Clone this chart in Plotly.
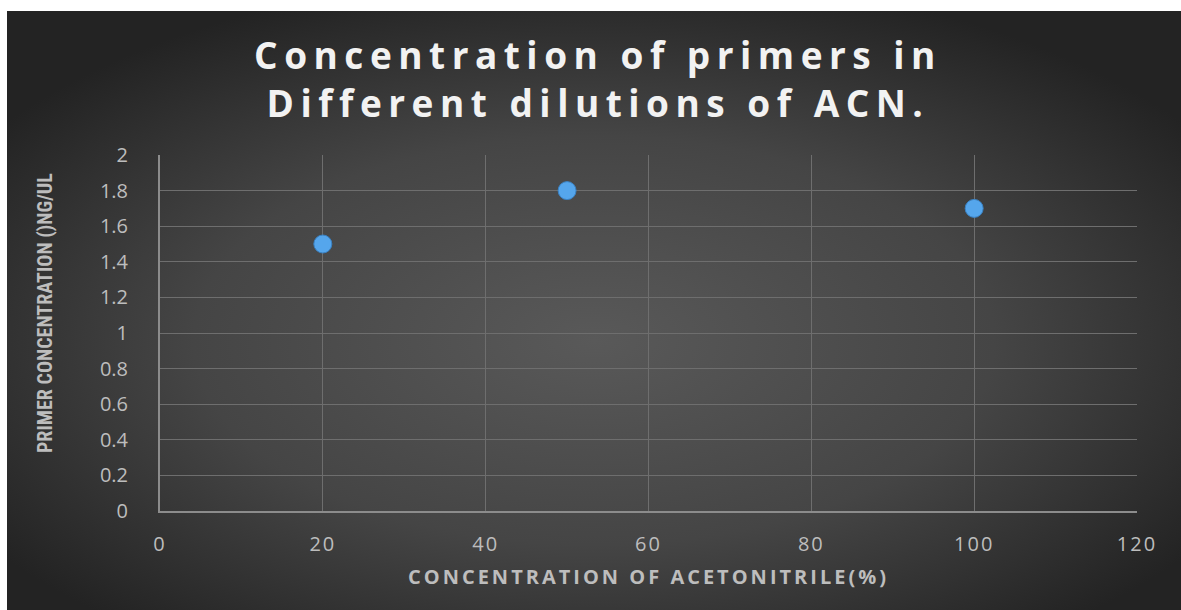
import plotly.graph_objects as go
import base64

acn_percent = [20, 50, 100]
primer_conc = [1.5, 1.8, 1.7]

title_lines = ["Concentration of primers in", "Different dilutions of ACN."]
x_title = "CONCENTRATION OF ACETONITRILE(%)"
y_title = "PRIMER CONCENTRATION ()NG/UL"

W, H = 1181, 610
L, R, T, B = 160, 44, 155, 99
pw, ph = W - L - R, H - T - B

svg = (
    '<svg xmlns="http://www.w3.org/2000/svg" width="1174" height="599" preserveAspectRatio="none">'
    '<defs><radialGradient id="g" cx="50%" cy="55%" r="62%" fx="50%" fy="55%">'
    '<stop offset="0%" stop-color="#595959"/>'
    '<stop offset="55%" stop-color="#454545"/>'
    '<stop offset="100%" stop-color="#232323"/>'
    '</radialGradient></defs>'
    '<rect width="1174" height="599" fill="url(#g)"/></svg>'
)
src = "data:image/svg+xml;base64," + base64.b64encode(svg.encode()).decode()

fig = go.Figure()
fig.add_trace(go.Scatter(
    x=acn_percent, y=primer_conc, mode="markers",
    marker=dict(size=18, color="#55a6ec", line=dict(color="#3a82c4", width=1)),
    showlegend=False, hoverinfo="x+y",
))

fig.add_layout_image(dict(
    source=src, xref="paper", yref="paper",
    x=(7 - L) / pw, y=(H - B - 11) / ph,
    sizex=(W - 7) / pw, sizey=(H - 11) / ph,
    sizing="stretch", xanchor="left", yanchor="top", layer="below",
))

fig.add_annotation(
    text=y_title, textangle=-90, showarrow=False,
    xref="paper", yref="paper",
    x=(45 - L) / pw, y=(H - B - 313) / ph, xanchor="center", yanchor="middle",
    font=dict(family="Liberation Sans Narrow, Roboto Condensed, Arial Narrow, sans-serif",
              size=20, color="#bdbdbd", weight="bold"),
)

fig.update_layout(
    width=W, height=H,
    margin=dict(l=L, r=R, t=T, b=B),
    paper_bgcolor="white",
    plot_bgcolor="rgba(0,0,0,0)",
    title=dict(
        text="<br>".join(title_lines),
        x=(598 - L) / pw, xref="paper", xanchor="center",
        y=1 - 69 / H, yref="container", yanchor="middle",
        font=dict(family="Open Sans", size=37, color="#f2f2f2", weight="bold"),
    ),
    font=dict(family="Open Sans", color="#bdbdbd"),
)

fig.update_xaxes(
    range=[0, 120], tickvals=[0, 20, 40, 60, 80, 100, 120],
    showgrid=True, gridcolor="#6e6e6e", gridwidth=1,
    showline=True, linecolor="#8c8c8c", linewidth=2,
    zeroline=False, ticks="", ticklabelstandoff=14,
    tickfont=dict(size=20, color="#bdbdbd"),
    title=dict(text=x_title, standoff=14,
               font=dict(family="Open Sans", size=20, color="#bdbdbd", weight="bold")),
)
fig.update_yaxes(
    range=[0, 2], tickvals=[0, 0.2, 0.4, 0.6, 0.8, 1, 1.2, 1.4, 1.6, 1.8, 2],
    showgrid=True, gridcolor="#6e6e6e", gridwidth=1,
    showline=True, linecolor="#8c8c8c", linewidth=2,
    zeroline=False, ticks="", ticklabelstandoff=26,
    tickfont=dict(size=20, color="#bdbdbd"),
)

post = """
document.body.style.margin = '0';
document.querySelectorAll('.gtitle').forEach(function(e){ e.style.letterSpacing = '6.5px'; });
document.querySelectorAll('.xtitle').forEach(function(e){ e.style.letterSpacing = '3px'; });
document.querySelectorAll('.xtick text').forEach(function(e){ e.style.letterSpacing = '2px'; });
"""

fig.write_html("out.html", post_script=post, config={"displayModeBar": False})
